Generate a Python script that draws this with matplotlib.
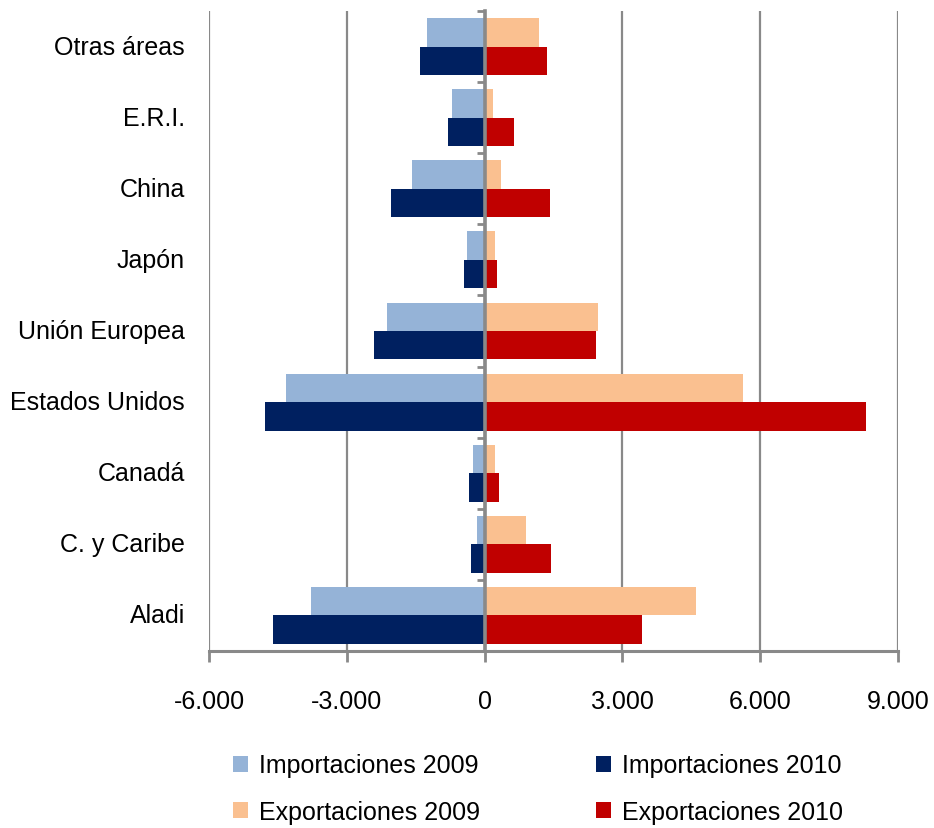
import matplotlib.pyplot as plt
import matplotlib.transforms as mtransforms
from matplotlib.ticker import FuncFormatter, FixedLocator
import numpy as np

# zonas, de abajo hacia arriba
zonas = ['Aladi', 'C. y Caribe', 'Canadá', 'Estados Unidos', 'Unión Europea',
         'Japón', 'China', 'E.R.I.', 'Otras áreas']

imp_2009 = [-3772, -159, -246, -4317, -2118, -376, -1574, -703, -1247]
imp_2010 = [-4600, -290, -333, -4775, -2403, -442, -2031, -790, -1400]
exp_2009 = [4609, 908, 232, 5631, 2475, 232, 364, 189, 1190]
exp_2010 = [3436, 1452, 320, 8309, 2431, 276, 1430, 646, 1364]

xticks = [-6000, -3000, 0, 3000, 6000, 9000]

plt.rcParams['font.family'] = ['Liberation Sans', 'DejaVu Sans']

fig = plt.figure(figsize=(9.34, 8.29), dpi=100)
ax = fig.add_axes([0.2238, 0.2135, 0.9615 - 0.2238, 0.9855 - 0.2135])

gris = '#898989'
y = np.arange(len(zonas))
h = 0.4

ax.barh(y + h / 2, imp_2009, height=h, color='#95B3D7', label='Importaciones 2009', zorder=3)
ax.barh(y - h / 2, imp_2010, height=h, color='#002060', label='Importaciones 2010', zorder=3)
ax.barh(y + h / 2, exp_2009, height=h, color='#FAC090', label='Exportaciones 2009', zorder=3)
ax.barh(y - h / 2, exp_2010, height=h, color='#C00000', label='Exportaciones 2010', zorder=3)

ax.set_xlim(-6000, 9000)
ax.set_ylim(-0.5, len(zonas) - 0.5)
ax.set_xticks(xticks)
ax.xaxis.set_major_formatter(FuncFormatter(lambda v, p: f'{int(v):,}'.replace(',', '.')))
ax.tick_params(axis='x', direction='out', length=8, width=2, color=gris,
               labelsize=18, pad=19)
ax.grid(axis='x', color=gris, lw=1.6, zorder=0)

# eje vertical en cero con marcas entre categorias
ax.spines['left'].set_position(('data', 0))
ax.spines['left'].set_color(gris)
ax.spines['left'].set_linewidth(2.6)
ax.spines['left'].set_zorder(4)
ax.yaxis.set_major_locator(FixedLocator([]))
ax.yaxis.set_minor_locator(FixedLocator(np.arange(len(zonas) + 1) - 0.5))
ax.tick_params(axis='y', which='minor', direction='out', length=6, width=2, color=gris)
for s in ['top', 'right']:
    ax.spines[s].set_visible(False)
ax.spines['bottom'].set_color(gris)
ax.spines['bottom'].set_linewidth(2.2)

trans = mtransforms.blended_transform_factory(ax.transAxes, ax.transData)
for yi, z in zip(y, zonas):
    ax.text(-0.035, yi, z, transform=trans, ha='right', va='center', fontsize=18)

handles, labels = ax.get_legend_handles_labels()
orden = [0, 2, 1, 3]
fig.legend([handles[i] for i in orden], [labels[i] for i in orden],
           loc='upper left', bbox_to_anchor=(0.249, 0.09),
           ncol=2, frameon=False, fontsize=18, handlelength=0.6, handleheight=0.6,
           handletextpad=0.45, columnspacing=4.65, labelspacing=0.9,
           borderaxespad=0, borderpad=0)

fig.savefig('out.png', dpi=100)
